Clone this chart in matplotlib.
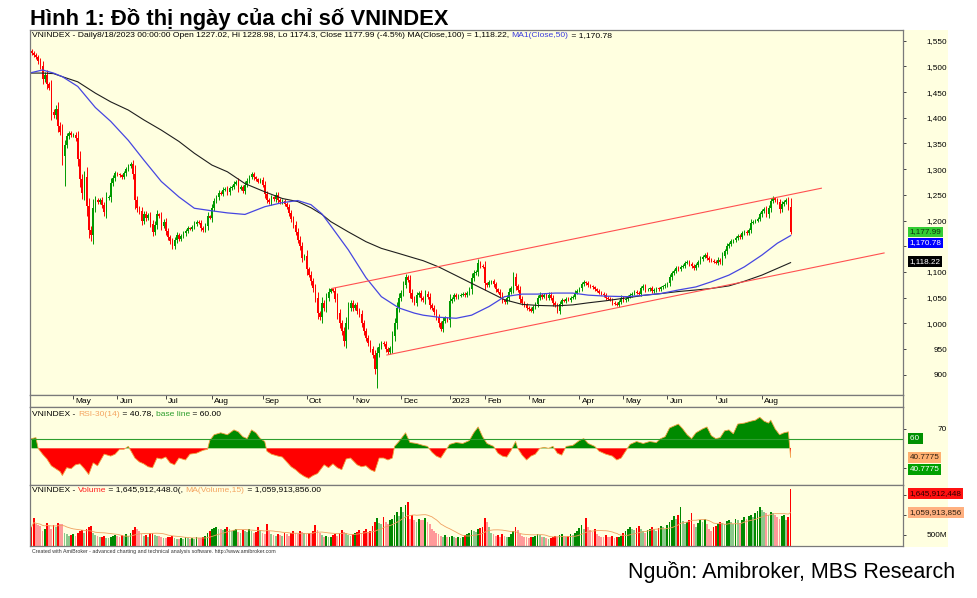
import numpy as np
import pandas as pd
import matplotlib
matplotlib.use("Agg")
import matplotlib.pyplot as plt
from matplotlib import transforms
from matplotlib.patches import Rectangle

plt.rcParams['font.family'] = ['Liberation Sans', 'DejaVu Sans']

BG = "#ffffe0"
UP = "#009a00"
DOWN = "#ff0000"

# sessions per month, Apr 2022 (partial) .. Aug 2023 (to 18th)
month_labels = ["", "May", "Jun", "Jul", "Aug", "Sep", "Oct", "Nov", "Dec",
                "2023", "Feb", "Mar", "Apr", "May", "Jun", "Jul", "Aug"]
month_sessions = [19, 20, 22, 21, 23, 20, 21, 22, 22, 16, 20, 23, 20, 20, 22, 21, 14]

first_open = 1530
close_px = [
    1526, 1522, 1518, 1510, 1500, 1475, 1484, 1465, 1458, 1412, 1405, 1418, 1385, 1372, 1325, 1348, 1364, 1370, 1366,
    1367, 1360, 1320, 1280, 1253, 1285, 1228, 1182, 1172, 1224, 1240, 1236, 1240, 1230, 1216, 1244, 1246, 1273, 1283, 1292,
    1290, 1288, 1285, 1292, 1300, 1306, 1310, 1290, 1240, 1224, 1218, 1200, 1213, 1205, 1210, 1194, 1178, 1192, 1212, 1208, 1190, 1198,
    1180, 1168, 1160, 1150, 1162, 1172, 1165, 1170, 1175, 1180, 1185, 1184, 1188, 1194, 1198, 1196, 1186, 1182, 1190, 1208, 1206,
    1225, 1238, 1245, 1254, 1252, 1260, 1262, 1255, 1263, 1266, 1272, 1276, 1262, 1265, 1258, 1270, 1278, 1285, 1290, 1284, 1280, 1276, 1279,
    1270, 1252, 1240, 1236, 1245, 1242, 1250, 1240, 1236, 1238, 1232, 1226, 1215, 1203, 1192, 1178, 1163, 1150, 1128, 1132,
    1105, 1095, 1082, 1068, 1050, 1020, 1012, 1040, 1030, 1050, 1062, 1066, 1064, 1048, 1020, 1000, 985, 965, 1000, 1030, 1040,
    1030, 1036, 1025, 1018, 1000, 985, 972, 962, 950, 938, 912, 942, 955, 962, 960, 950, 945, 952, 975, 1000, 1030, 1050,
    1060, 1075, 1090, 1085, 1060, 1048, 1040, 1055, 1060, 1050, 1045, 1058, 1052, 1035, 1030, 1022, 1012, 1000, 990, 1005, 1010, 1007,
    1043, 1048, 1055, 1051, 1054, 1056, 1058, 1055, 1060, 1066, 1088, 1098, 1100, 1117, 1112, 1110,
    1078, 1075, 1080, 1082, 1076, 1066, 1062, 1055, 1045, 1042, 1050, 1062, 1068, 1090, 1072, 1065, 1048, 1040, 1035, 1030,
    1028, 1025, 1032, 1038, 1050, 1056, 1052, 1055, 1050, 1056, 1050, 1040, 1035, 1025, 1038, 1045, 1044, 1048, 1046, 1050, 1052, 1060, 1064,
    1068, 1076, 1080, 1078, 1074, 1072, 1070, 1066, 1064, 1060, 1058, 1055, 1050, 1048, 1046, 1040, 1038, 1036, 1042, 1050,
    1045, 1048, 1052, 1055, 1058, 1062, 1060, 1058, 1068, 1072, 1066, 1066, 1068, 1063, 1065, 1068, 1066, 1070, 1072, 1075,
    1078, 1090, 1098, 1102, 1108, 1106, 1110, 1112, 1118, 1120, 1116, 1112, 1108, 1114, 1120, 1126, 1130, 1134, 1128, 1124, 1122, 1120,
    1118, 1124, 1120, 1132, 1140, 1150, 1155, 1160, 1162, 1166, 1170, 1168, 1175, 1178, 1176, 1182, 1196, 1198, 1200, 1204, 1212,
    1218, 1222, 1212, 1224, 1238, 1243, 1240, 1236, 1222, 1232, 1236, 1240, 1227, 1177.99,
]
# a few long wicks
wick_bar = [15, 27, 157, 345]
wick_low = [1268, 1160, 874, 1174.3]
wick_high = [1352, 1190, 945, 1228.98]

# volume, millions of shares
volume_m = [
    700, 910, 760, 740, 720, 600, 650, 790, 720, 640, 750, 700, 790, 780, 760, 560, 520, 480, 500,
    520, 480, 560, 600, 620, 560, 640, 700, 720, 560, 500, 480, 440, 450, 470, 430, 420, 460, 480, 500,
    480, 460, 500, 470, 520, 480, 560, 620, 700, 640, 600, 520, 480, 500, 460, 540, 560, 500, 480, 470, 440, 430,
    420, 440, 450, 480, 430, 410, 400, 420, 410, 440, 430, 400, 420, 410, 440, 430, 420, 450, 480, 560, 600,
    640, 680, 700, 660, 640, 620, 660, 700, 640, 600, 620, 650, 580, 560, 620, 600, 580, 640, 600, 560, 580, 700, 620,
    560, 520, 760, 600, 520, 500, 480, 520, 500, 480, 560, 520, 480, 540, 600, 560, 520, 600, 580, 540,
    520, 560, 540, 600, 750, 620, 560, 500, 460, 480, 440, 460, 500, 520, 480, 560, 620, 580, 540, 500, 480,
    520, 560, 580, 620, 560, 600, 640, 580, 600, 720, 820, 920, 800, 780, 950, 820, 760, 860, 900, 1000, 1070, 980,
    1190, 1080, 1240, 1320, 900, 1000, 870, 820, 900, 880, 860, 910, 830, 780, 650, 600, 560, 520, 480, 460, 500, 450,
    460, 480, 440, 420, 450, 430, 460, 500, 520, 560, 620, 600, 580, 640, 680, 700,
    930, 820, 700, 560, 520, 480, 500, 460, 520, 480, 440, 460, 520, 600, 700, 620, 520, 480, 460, 440,
    420, 440, 460, 480, 520, 500, 460, 440, 420, 400, 420, 460, 480, 440, 500, 520, 460, 440, 480, 520, 500, 560, 600,
    680, 750, 640, 910, 700, 620, 580, 640, 520, 480, 460, 440, 500, 460, 440, 480, 420, 440, 460, 480,
    560, 600, 640, 700, 660, 620, 680, 720, 640, 600, 560, 620, 660, 700, 640, 600, 680, 720, 700, 660,
    740, 820, 880, 960, 900, 1000, 1180, 840, 760, 820, 880, 1040, 780, 700, 800, 860, 820, 900, 760, 640, 600, 700,
    720, 780, 820, 800, 760, 840, 880, 820, 780, 900, 860, 800, 880, 940, 900, 960, 1000, 940, 1040, 1100, 1180,
    1120, 1060, 1040, 1000, 1080, 1050, 1000, 940, 900, 960, 1000, 880, 940, 1646,
]

# moving averages
ma_bar = [0, 5, 10, 14, 21, 29, 36, 44, 51, 59, 67, 74, 82, 89, 97, 106, 114, 121, 127, 132,
          136, 144, 152, 159, 167, 174, 178, 185, 193, 200, 208, 215, 223, 230, 238, 246, 253, 261,
          271, 279, 286, 294, 302, 309, 317, 324, 332, 339, 345]
ma100 = [1487, 1487, 1486, 1480, 1470, 1448, 1431, 1415, 1396, 1376, 1354, 1331, 1308, 1295, 1272, 1256,
         1243, 1237, 1225, 1212, 1198, 1178, 1159, 1146, 1136, 1127, 1122, 1110, 1093, 1078, 1061, 1046,
         1037, 1035, 1034, 1036, 1040, 1044, 1050, 1055, 1058, 1062, 1065, 1068, 1073, 1082, 1094, 1107, 1118.22]
ma50 = [1488, 1493, 1487, 1480, 1461, 1420, 1393, 1356, 1318, 1276, 1246, 1224, 1219, 1215, 1212, 1227,
        1235, 1239, 1231, 1213, 1190, 1143, 1089, 1052, 1030, 1020, 1016, 1012, 1010, 1016, 1033, 1052,
        1057, 1057, 1059, 1059, 1055, 1053, 1052, 1055, 1058, 1065, 1071, 1081, 1094, 1110, 1133, 1156, 1170.78]

# trend channel (bar, price)
chan_up_bar = [136.5, 359]
chan_up_px = [1068, 1263]
chan_lo_bar = [161.5, 387.5]
chan_lo_px = [938.5, 1137]

# RSI
rsi_bar = [0, 2, 3, 5, 7, 9, 11, 13, 14, 16, 18, 20, 22, 24, 26, 28, 30, 33, 36, 38, 40, 42, 44, 45,
           47, 49, 51, 53, 55, 57, 59, 61, 63, 65, 67, 70, 72, 75, 78, 80, 81, 83, 86, 89, 92, 94, 96,
           98, 100, 102, 104, 106, 107, 109, 112, 114, 116, 118, 120, 122, 124, 126, 128, 130, 133, 135,
           137, 139, 141, 143, 145, 148, 150, 152, 154, 156, 158, 160, 162, 164, 165, 167, 170, 172, 175,
           178, 180, 182, 184, 186, 188, 190, 193, 196, 199, 201, 203, 205, 207, 210, 212, 214, 216, 218,
           220, 221, 223, 225, 227, 229, 231, 233, 235, 237, 239, 241, 243, 246, 249, 251, 253, 256, 258,
           261, 264, 266, 268, 270, 272, 275, 278, 281, 284, 286, 288, 290, 292, 294, 296, 298, 300, 302,
           305, 307, 309, 311, 313, 315, 317, 319, 321, 324, 327, 329, 331, 333, 335, 336, 338, 340, 342,
           344, 345]
rsi_val = [60, 61, 50, 44, 39, 32, 29, 26, 22, 30, 29, 33, 34, 29, 23, 35, 32, 44, 42, 44, 49, 49, 52, 48,
           40, 36, 34, 31, 30, 40, 39, 41, 35, 33, 40, 38, 44, 45, 48, 49, 58, 64, 66, 64, 69, 67, 62,
           60, 69, 66, 60, 57, 47, 44, 42, 41, 36, 31, 28, 24, 21, 19, 22, 24, 33, 30,
           34, 30, 28, 39, 40, 33, 31, 32, 28, 26, 40, 40, 38, 40, 52, 57, 66, 56, 55,
           53, 52, 46, 42, 40, 47, 54, 56, 55, 58, 66, 72, 62, 55, 52, 45, 42, 41, 48,
           57, 50, 43, 38, 42, 44, 50, 51, 50, 52, 45, 43, 52, 53, 58, 60, 55, 52, 47,
           44, 42, 38, 40, 47, 54, 57, 55, 57, 56, 60, 62, 71, 73, 75, 70, 64, 60, 66,
           70, 72, 63, 60, 61, 68, 69, 65, 75, 76, 78, 79, 82, 78, 76, 79, 70, 64, 66,
           67, 40.78]


def color_text(ax, x, y, parts, size):
    t = ax.text(x, y, parts[0][0], color=parts[0][1], fontsize=size,
                transform=ax.transAxes, ha="left", va="center")
    for s, c in parts[1:]:
        t = ax.annotate(s, xycoords=t, xy=(1, 0), va="bottom", ha="left",
                        color=c, fontsize=size)
    return t


def tag(ax, y, text, fc, tc, dy=0):
    tr = transforms.blended_transform_factory(ax.transAxes, ax.transData)
    tr = transforms.offset_copy(tr, fig=ax.figure, y=-dy, units="points")
    ax.text(1.0075, y, text, transform=tr, fontsize=5.9, color=tc, ha="left",
            va="center", clip_on=False, zorder=10,
            bbox=dict(boxstyle="square,pad=0.22", fc=fc, ec="none"))


def style_axes(ax):
    ax.set_facecolor(BG)
    for s in ax.spines.values():
        s.set_color("#7a7a7a")
        s.set_linewidth(0.9)
    ax.tick_params(axis="y", left=False, labelleft=False, right=True, labelright=True,
                   length=2.2, width=0.7, color="#444444", labelsize=5.9, pad=29.5)
    ax.tick_params(axis="x", bottom=False, labelbottom=False)


close = np.array(close_px, dtype=float)
n = len(close)
x = np.arange(n)
open_ = np.r_[first_open, close[:-1]]
body = np.abs(close - open_)
high = np.maximum(open_, close) + 0.3 * body + 2.5
low = np.minimum(open_, close) - 0.3 * body - 2.5
high[wick_bar] = np.maximum(high[wick_bar], wick_high)
low[wick_bar] = wick_low
up = close >= open_
cols = np.where(up, UP, DOWN)

vol = np.array(volume_m, dtype=float) * 1e6
vol_ma = pd.Series(vol).rolling(15, min_periods=1).mean().values
vol_up = vol >= np.r_[vol[0], vol[:-1]]
vcols = np.where(up, np.where(vol_up, "#008800", "#8cc88c"),
                 np.where(vol_up, "#ff0000", "#ff9a9a"))

month_start = np.r_[0, np.cumsum(month_sessions)[:-1]]

W, H = 978, 598
fig = plt.figure(figsize=(W / 100, H / 100), dpi=100)
fig.patch.set_facecolor("white")
fig.patches.append(Rectangle((30 / W, 1 - 547 / H), (948 - 30) / W, (547 - 30) / H,
                             transform=fig.transFigure, fc=BG, ec="none", zorder=-10))

L, AW = 30 / W, 873 / W
ax = fig.add_axes([L, 1 - 395 / H, AW, 365 / H])
axd = fig.add_axes([L, 1 - 407 / H, AW, 12 / H])
axr = fig.add_axes([L, 1 - 485 / H, AW, 78 / H])
axv = fig.add_axes([L, 1 - 546 / H, AW, 61 / H])
xlim = (-0.7, 396.1)

# --- price panel
style_axes(ax)
ax.vlines(x, low, high, colors=cols, lw=0.7)
ax.bar(x, np.maximum(body, 1.2), bottom=np.minimum(open_, close), width=0.75,
       color=cols, linewidth=0)
ax.plot(ma_bar, ma100, color="#1e1e1e", lw=0.8)
ax.plot(ma_bar, ma50, color="#4646e0", lw=0.9)
ax.plot(chan_up_bar, chan_up_px, color="#ff5050", lw=0.8)
ax.plot(chan_lo_bar, chan_lo_px, color="#ff5050", lw=0.8)
ax.set_xlim(*xlim)
ax.set_ylim(860.7, 1570.8)
ax.set_yticks(np.arange(900, 1551, 50))
# 1,150 sits under the MA tags on the original
ax.set_yticklabels(["" if v == 1150 else f"{v:,}" for v in range(900, 1551, 50)])
for lb in ax.get_yticklabels():
    lb.set_horizontalalignment("right")
color_text(ax, 0.0023, 0.9836, [
    ("VNINDEX - Daily8/18/2023 00:00:00 Open 1227.02, Hi 1228.98, Lo 1174.3, Close 1177.99 (-4.5%) "
     "MA(Close,100) = 1,118.22, ", "black"),
    ("MA1(Close,50)", "#3c3cdc"), (" = 1,170.78", "black")], 6.1)
tag(ax, close[-1], "1,177.99", "#33cc33", "#103010")
tag(ax, ma50[-1], "1,170.78", "#0000ff", "white", dy=5.2)
tag(ax, ma100[-1], "1,118.22", "black", "white", dy=-0.8)

# --- date strip
axd.set_facecolor(BG)
for s in axd.spines.values():
    s.set_color("#7a7a7a")
    s.set_linewidth(0.9)
axd.set_xlim(*xlim)
axd.set_ylim(0, 1)
axd.set_yticks([])
axd.set_xticks(month_start[1:])
axd.tick_params(axis="x", direction="in", top=True, bottom=False, labelbottom=False,
                length=3, width=0.7, color="#444444")
for ms, lab in zip(month_start[1:], month_labels[1:]):
    axd.text(ms + 1, 0.42, lab, fontsize=6, ha="left", va="center")

# --- RSI panel
style_axes(axr)
rb = np.array(rsi_bar, dtype=float)
rv = np.array(rsi_val, dtype=float)
axr.fill_between(rb, 50, rv, where=rv >= 50, interpolate=True, color="#008a00", lw=0)
axr.fill_between(rb, 50, rv, where=rv <= 50, interpolate=True, color="#ff0000", lw=0)
axr.plot(rb, rv, color="#f0a040", lw=0.6)
axr.axhline(60, color="#2e9e2e", lw=0.8)
axr.set_xlim(*xlim)
axr.set_ylim(12.2, 92.6)
axr.set_yticks([30, 70])
axr.set_yticklabels(["", "70"])
for lb in axr.get_yticklabels():
    lb.set_horizontalalignment("right")
color_text(axr, 0.0023, 0.91, [
    ("VNINDEX - ", "black"), ("RSI-30(14)", "#f4a460"), (" = 40.78, ", "black"),
    ("base line", "#2e9e2e"), (" = 60.00", "black")], 6.1)
tag(axr, 60, "60 ", "#009000", "white")
tag(axr, rv[-1], "40.7775", "#ffb070", "#302010")
tag(axr, rv[-1], "40.7775", "#00a000", "white", dy=8.9)

# --- volume panel
style_axes(axv)
axv.bar(x, vol, width=0.8, color=vcols, linewidth=0)
axv.plot(x, vol_ma, color="#f0a060", lw=0.6)
axv.set_xlim(*xlim)
axv.set_ylim(0.228e9, 1.735e9)
axv.set_yticks([0.5e9, 1.0e9, 1.5e9])
axv.set_yticklabels(["500M", "", ""])
for lb in axv.get_yticklabels():
    lb.set_horizontalalignment("right")
color_text(axv, 0.0023, 0.918, [
    ("VNINDEX - ", "black"), ("Volume", "#ff2020"), (" = 1,645,912,448.0(, ", "black"),
    ("MA(Volume,15)", "#f4a460"), (" = 1,059,913,856.00", "black")], 6.1)
tag(axv, vol[-1], "1,645,912,448", "#ff1010", "#300000", dy=3.4)
tag(axv, vol_ma[-1], "1,059,913,856", "#ffb080", "#302010")

# --- titles and notes
fig.text(30 / W, 1 - 25 / H, "Hình 1: Đồ thị ngày của chỉ số VNINDEX", fontsize=15.8,
         fontweight="bold", ha="left", va="baseline")
fig.text(32 / W, 1 - 552 / H,
         "Created with AmiBroker - advanced charting and technical analysis software. http://www.amibroker.com",
         fontsize=3.8, color="#333333", ha="left", va="center")
fig.text(955 / W, 1 - 572 / H, "Nguồn: Amibroker, MBS Research", fontsize=15.5,
         ha="right", va="center")

fig.savefig("out.png", dpi=100)
